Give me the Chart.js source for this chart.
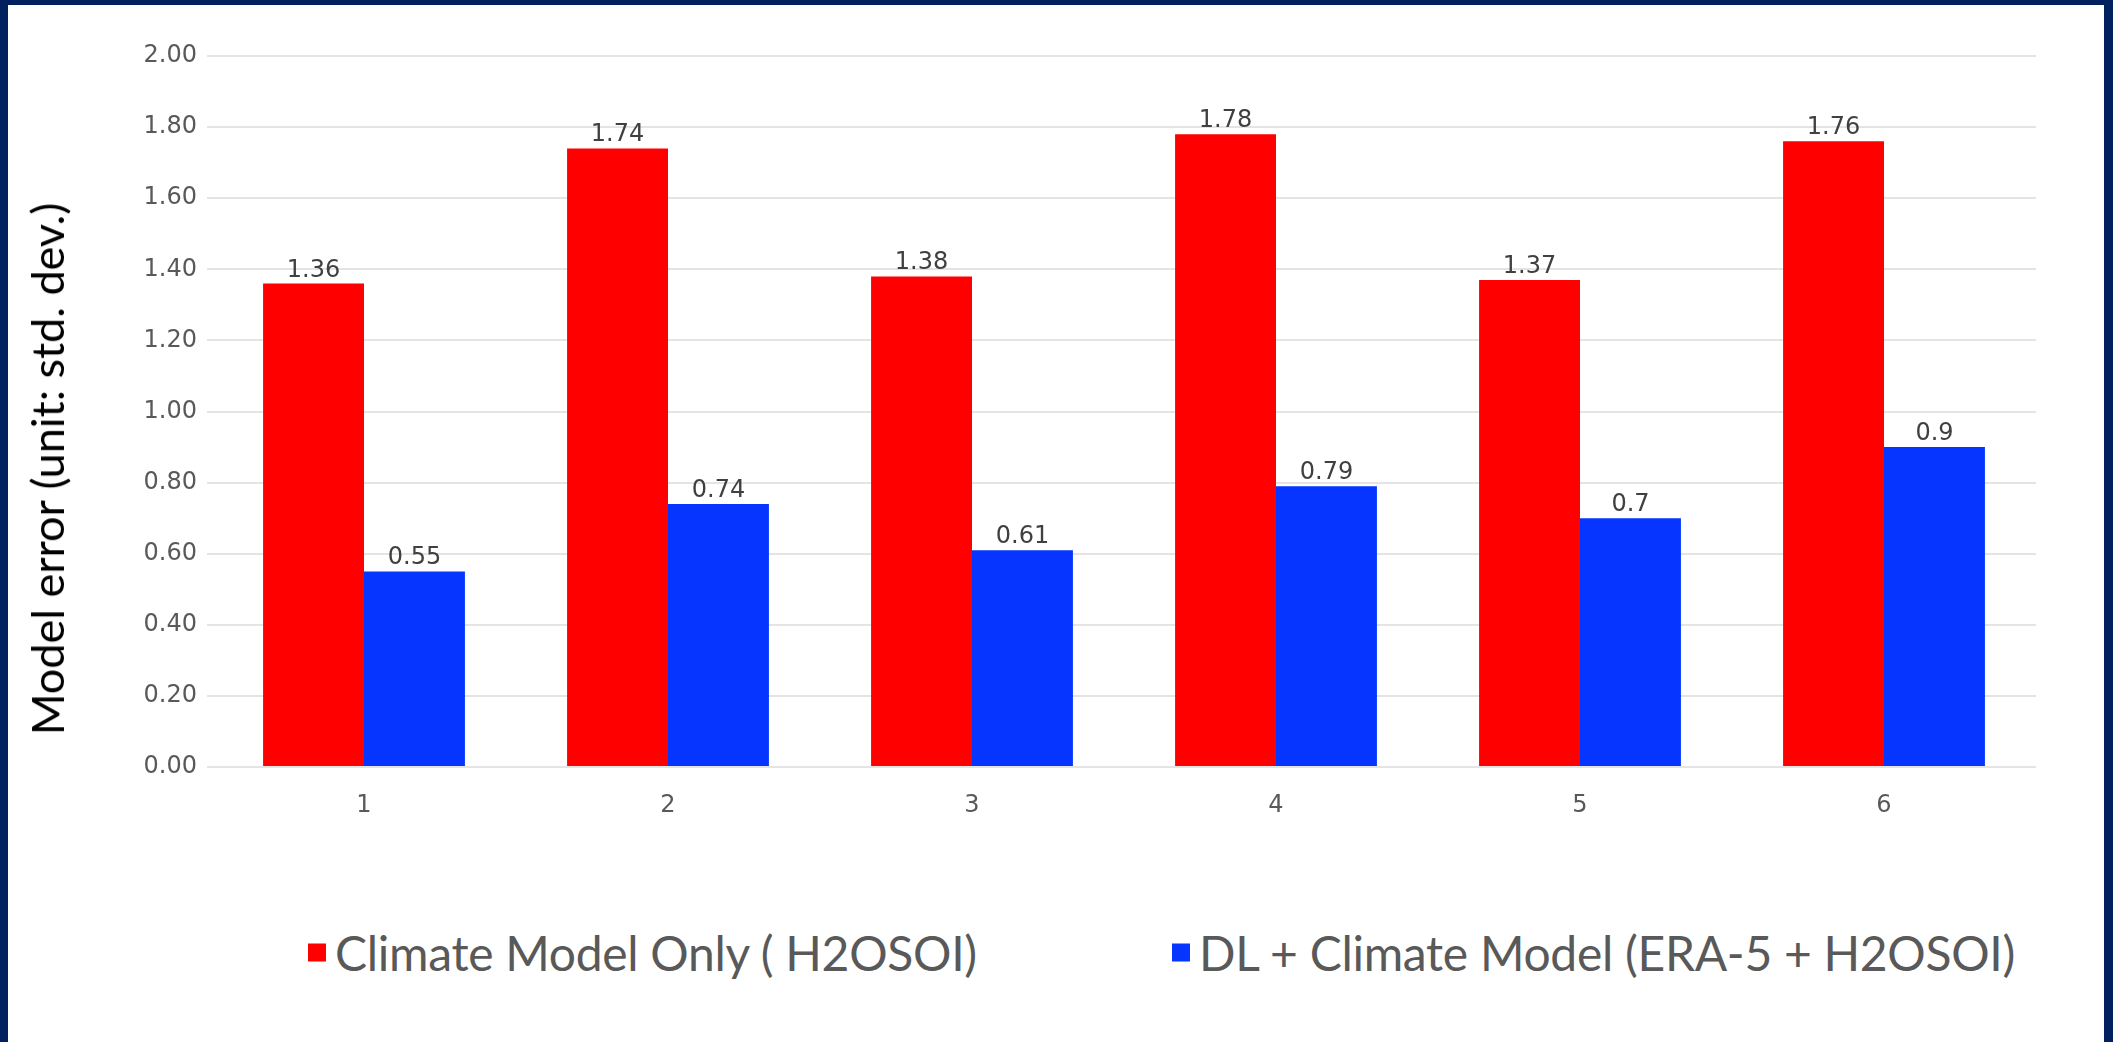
<!DOCTYPE html>
<html>
<head>
<meta charset="utf-8">
<title>Model error comparison</title>
<script src="https://cdn.jsdelivr.net/npm/chart.js@4.4.1/dist/chart.umd.min.js"></script>
<style>
  html, body { margin: 0; padding: 0; }
  body { width: 2113px; height: 1042px; background: #002060; position: relative; overflow: hidden; }
  #panel { position: absolute; left: 8px; top: 5px; width: 2096px; height: 1037px; background: #ffffff; }
  #chart { position: absolute; left: 0; top: 0; }
  #ytitle {
    position: absolute; left: 39px; top: 464px;
    transform: translate(-50%, -50%) rotate(-90deg);
    white-space: nowrap; font-family: Lato, "Open Sans", sans-serif; font-size: 45px; color: #000;
  }
  .legend-item { position: absolute; top: 947px; transform: translateY(-50%); display: flex; align-items: center;
    font-family: Lato, "Open Sans", sans-serif; font-size: 48px; letter-spacing: -0.3px; color: #595959; white-space: nowrap; }
  .legend-item .swatch { width: 18px; height: 18px; margin-right: 9px; }
</style>
</head>
<body>
<div id="panel">
  <canvas id="chart" width="2096" height="850"></canvas>
  <div id="ytitle">Model error (unit: std. dev.)</div>
  <div id="legend"></div>
</div>
<script>
// Experiment index along the x axis
const categories = ['1', '2', '3', '4', '5', '6'];

// Model error per experiment (unit: std. dev.)
const climateOnly = [1.36, 1.74, 1.38, 1.78, 1.37, 1.76];
const dlClimate = [0.55, 0.74, 0.61, 0.79, 0.7, 0.9];

const seriesNames = ['Climate Model Only ( H2OSOI)', 'DL + Climate Model (ERA-5 + H2OSOI)'];
const seriesColors = ['#ff0000', '#0535ff'];

// Value axis range and spacing
const yMin = 0;
const yMax = 2;
const yStep = 0.2;

const tickFont = { family: '"DejaVu Sans", sans-serif', size: 24 };
const tickColor = '#595959';

// Writes each bar's value just above its top
const valueLabels = {
  id: 'valueLabels',
  afterDatasetsDraw(chart) {
    const ctx = chart.ctx;
    ctx.save();
    ctx.font = '24px "DejaVu Sans", sans-serif';
    ctx.fillStyle = '#404040';
    ctx.textAlign = 'center';
    ctx.textBaseline = 'alphabetic';
    chart.data.datasets.forEach((ds, di) => {
      const meta = chart.getDatasetMeta(di);
      meta.data.forEach((bar, i) => {
        ctx.fillText(String(ds.data[i]), bar.x, bar.y - 7);
      });
    });
    ctx.restore();
  }
};

new Chart(document.getElementById('chart'), {
  type: 'bar',
  data: {
    labels: categories,
    datasets: [
      { label: seriesNames[0], data: climateOnly, backgroundColor: seriesColors[0], borderWidth: 0 },
      { label: seriesNames[1], data: dlClimate, backgroundColor: seriesColors[1], borderWidth: 0 }
    ]
  },
  options: {
    responsive: false,
    animation: false,
    devicePixelRatio: 1,
    layout: { padding: { top: 51, right: 68, bottom: 0, left: 0 } },
    datasets: { bar: { categoryPercentage: 0.664, barPercentage: 1.0 } },
    plugins: { legend: { display: false }, tooltip: { enabled: false } },
    scales: {
      x: {
        grid: { display: false, drawTicks: false },
        border: { display: false },
        ticks: { font: tickFont, color: tickColor, padding: 24 },
        afterFit(scale) { scale.height = 88; }
      },
      y: {
        min: yMin,
        max: yMax,
        grid: { color: '#e4e4e4', lineWidth: 2, tickLength: 5, drawTicks: true },
        border: { display: false },
        ticks: {
          stepSize: yStep,
          font: tickFont,
          color: tickColor,
          padding: 10,
          callback: (v) => Number(v).toFixed(2)
        },
        afterFit(scale) { scale.width = 204; }
      }
    }
  },
  plugins: [valueLabels]
});

// Legend row under the plot
const legendPositions = [300, 1164];
const legend = document.getElementById('legend');
seriesNames.forEach((name, i) => {
  const item = document.createElement('div');
  item.className = 'legend-item';
  item.style.left = legendPositions[i] + 'px';
  const sw = document.createElement('span');
  sw.className = 'swatch';
  sw.style.background = seriesColors[i];
  const tx = document.createElement('span');
  tx.textContent = name;
  item.appendChild(sw);
  item.appendChild(tx);
  legend.appendChild(item);
});
</script>
</body>
</html>
